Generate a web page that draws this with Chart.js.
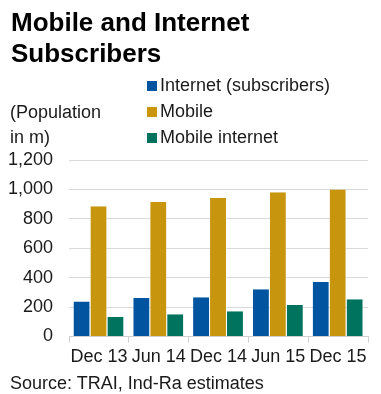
<!DOCTYPE html>
<html>
<head>
<meta charset="utf-8">
<script src="https://cdn.jsdelivr.net/npm/chart.js@4/dist/chart.umd.min.js"></script>
<style>
  body { margin: 0; background: #fff; font-family: "Liberation Sans", Arial, sans-serif; color: #1a1a1a; }
  #wrap { position: relative; width: 381px; height: 394px; overflow: hidden; }
  #chart { position: absolute; left: 0; top: 0; }
  .txt { position: absolute; white-space: nowrap; }
  #title { left: 11px; top: 7px; font-size: 26px; font-weight: bold; line-height: 31px; color: #000; }
  #unit { left: 10px; top: 100px; font-size: 18px; line-height: 25px; }
  #legend { left: 147px; top: 72px; font-size: 18px; line-height: 26px; }
  #legend span { display: inline-block; width: 10px; height: 10px; margin-right: 3px; }
  #source { left: 10px; top: 372px; font-size: 18px; line-height: 22px; }
</style>
</head>
<body>
<div id="wrap">
  <canvas id="chart" width="381" height="394"></canvas>
  <div id="title" class="txt">Mobile and Internet<br>Subscribers</div>
  <div id="unit" class="txt">(Population<br>in m)</div>
  <div id="legend" class="txt"></div>
  <div id="source" class="txt">Source: TRAI, Ind-Ra estimates</div>
</div>
<script>
// Datos del gráfico
const periods = ["Dec 13", "Jun 14", "Dec 14", "Jun 15", "Dec 15"];
const internetSubs = [238, 261, 267, 320, 370];
const mobileSubs = [885, 914, 942, 981, 999];
const mobileInternet = [132, 151, 171, 213, 252];
const seriesNames = ["Internet (subscribers)", "Mobile", "Mobile internet"];
const seriesColors = ["#0054a0", "#c8960e", "#00735f"];

// Leyenda en HTML (lista vertical)
const legend = document.getElementById("legend");
legend.innerHTML = seriesNames
  .map((name, i) => `<span style="background:${seriesColors[i]}"></span>${name}`)
  .join("<br>");

const canvas = document.getElementById("chart");
new Chart(canvas, {
  type: "bar",
  data: {
    labels: periods,
    datasets: [internetSubs, mobileSubs, mobileInternet].map((values, i) => ({
      label: seriesNames[i],
      data: values,
      backgroundColor: seriesColors[i],
      borderColor: "rgba(255,255,255,0.6)",
      borderWidth: { right: 1 },
      categoryPercentage: 0.85,
      barPercentage: 1.0,
    })),
  },
  options: {
    responsive: false,
    animation: false,
    layout: { padding: { top: 160, left: 8, right: 13, bottom: 22 } },
    plugins: { legend: { display: false }, tooltip: { enabled: false } },
    scales: {
      x: {
        grid: { offset: true, drawOnChartArea: false, tickLength: 6, color: "#d0d0d0" },
        border: { color: "#d0d0d0" },
        ticks: { color: "#1a1a1a", font: { family: "Liberation Sans", size: 18 }, padding: 4, maxRotation: 0, autoSkip: false },
      },
      y: {
        min: 0,
        max: 1200,
        ticks: { stepSize: 200, color: "#1a1a1a", font: { family: "Liberation Sans", size: 18 }, padding: 16 },
        grid: { color: "#d9d9d9", drawTicks: false },
        border: { display: false },
        // ancho fijo del eje para alinear el área del gráfico
        afterFit: (scale) => { scale.width = 61; },
      },
    },
  },
});
</script>
</body>
</html>
